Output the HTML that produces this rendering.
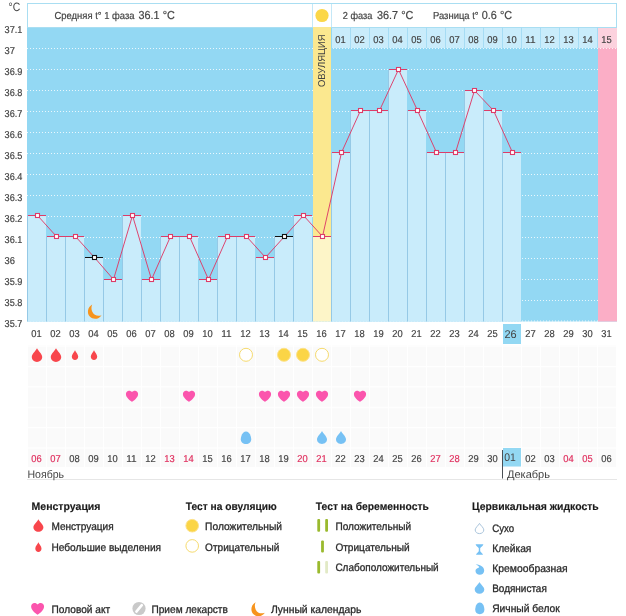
<!DOCTYPE html>
<html lang="ru"><head><meta charset="utf-8"><title>График базальной температуры</title>
<style>html,body{margin:0;padding:0;background:#fff}body{width:626px;height:616px;overflow:hidden}svg{display:block}text{text-rendering:geometricPrecision}</style>
</head><body>
<svg width="626" height="616" viewBox="0 0 626 616" font-family='"Liberation Sans", "DejaVu Sans", sans-serif'>
<rect width="626" height="616" fill="#fff"/>
<rect x="27" y="27" width="590" height="294.5" fill="#93d8f3"/>
<rect x="332" y="27" width="266" height="21" fill="#c9ecfb"/>
<rect x="598" y="27" width="19" height="21" fill="#fcd2de"/>
<rect x="598" y="48" width="19" height="273.5" fill="#fbaec6"/>
<path d="M27 48.5H617M27 69.5H598M27 90.5H598M27 111.5H598M27 132.5H598M27 153.5H598M27 174.5H598M27 195.5H598M27 216.5H598M27 237.5H598M27 258.5H598M27 279.5H598M27 300.5H598M27 321.0H598" stroke="#fff" stroke-opacity=".8" stroke-dasharray="1 2" fill="none"/>
<rect x="27" y="215.0" width="19" height="106.5" fill="#c9ecfb"/>
<rect x="27" y="215.0" width="1" height="106.5" fill="#95c9e6"/>
<rect x="46" y="236.0" width="19" height="85.5" fill="#c9ecfb"/>
<rect x="46" y="236.0" width="1" height="85.5" fill="#95c9e6"/>
<rect x="65" y="236.0" width="19" height="85.5" fill="#c9ecfb"/>
<rect x="65" y="236.0" width="1" height="85.5" fill="#95c9e6"/>
<rect x="84" y="257.0" width="19" height="64.5" fill="#c9ecfb"/>
<rect x="84" y="257.0" width="1" height="64.5" fill="#95c9e6"/>
<rect x="103" y="279.0" width="19" height="42.5" fill="#c9ecfb"/>
<rect x="103" y="279.0" width="1" height="42.5" fill="#95c9e6"/>
<rect x="122" y="215.0" width="19" height="106.5" fill="#c9ecfb"/>
<rect x="122" y="215.0" width="1" height="106.5" fill="#95c9e6"/>
<rect x="141" y="279.0" width="19" height="42.5" fill="#c9ecfb"/>
<rect x="141" y="279.0" width="1" height="42.5" fill="#95c9e6"/>
<rect x="160" y="236.0" width="19" height="85.5" fill="#c9ecfb"/>
<rect x="160" y="236.0" width="1" height="85.5" fill="#95c9e6"/>
<rect x="179" y="236.0" width="19" height="85.5" fill="#c9ecfb"/>
<rect x="179" y="236.0" width="1" height="85.5" fill="#95c9e6"/>
<rect x="198" y="279.0" width="19" height="42.5" fill="#c9ecfb"/>
<rect x="198" y="279.0" width="1" height="42.5" fill="#95c9e6"/>
<rect x="217" y="236.0" width="19" height="85.5" fill="#c9ecfb"/>
<rect x="217" y="236.0" width="1" height="85.5" fill="#95c9e6"/>
<rect x="236" y="236.0" width="19" height="85.5" fill="#c9ecfb"/>
<rect x="236" y="236.0" width="1" height="85.5" fill="#95c9e6"/>
<rect x="255" y="257.0" width="19" height="64.5" fill="#c9ecfb"/>
<rect x="255" y="257.0" width="1" height="64.5" fill="#95c9e6"/>
<rect x="274" y="236.0" width="19" height="85.5" fill="#c9ecfb"/>
<rect x="274" y="236.0" width="1" height="85.5" fill="#95c9e6"/>
<rect x="293" y="215.0" width="19" height="106.5" fill="#c9ecfb"/>
<rect x="293" y="215.0" width="1" height="106.5" fill="#95c9e6"/>
<rect x="331" y="152.0" width="19" height="169.5" fill="#c9ecfb"/>
<rect x="331" y="152.0" width="1" height="169.5" fill="#95c9e6"/>
<rect x="350" y="110.0" width="19" height="211.5" fill="#c9ecfb"/>
<rect x="350" y="110.0" width="1" height="211.5" fill="#95c9e6"/>
<rect x="369" y="110.0" width="19" height="211.5" fill="#c9ecfb"/>
<rect x="369" y="110.0" width="1" height="211.5" fill="#95c9e6"/>
<rect x="388" y="69.0" width="19" height="252.5" fill="#c9ecfb"/>
<rect x="388" y="69.0" width="1" height="252.5" fill="#95c9e6"/>
<rect x="407" y="110.0" width="19" height="211.5" fill="#c9ecfb"/>
<rect x="407" y="110.0" width="1" height="211.5" fill="#95c9e6"/>
<rect x="426" y="152.0" width="19" height="169.5" fill="#c9ecfb"/>
<rect x="426" y="152.0" width="1" height="169.5" fill="#95c9e6"/>
<rect x="445" y="152.0" width="19" height="169.5" fill="#c9ecfb"/>
<rect x="445" y="152.0" width="1" height="169.5" fill="#95c9e6"/>
<rect x="464" y="90.0" width="19" height="231.5" fill="#c9ecfb"/>
<rect x="464" y="90.0" width="1" height="231.5" fill="#95c9e6"/>
<rect x="483" y="110.0" width="19" height="211.5" fill="#c9ecfb"/>
<rect x="483" y="110.0" width="1" height="211.5" fill="#95c9e6"/>
<rect x="502" y="152.0" width="19" height="169.5" fill="#c9ecfb"/>
<rect x="502" y="152.0" width="1" height="169.5" fill="#95c9e6"/>
<rect x="27.5" y="3.5" width="589" height="24" fill="#fff" stroke="#a9def2"/>
<path d="M312.5 4V27M331.5 4V27" stroke="#c5e8f7" fill="none"/>
<path d="M350.5 27V48M369.5 27V48M388.5 27V48M407.5 27V48M426.5 27V48M445.5 27V48M464.5 27V48M483.5 27V48M502.5 27V48M521.5 27V48M540.5 27V48M559.5 27V48M578.5 27V48M597.5 27V48" stroke="#a6dcf4" fill="none"/>
<rect x="313" y="27" width="18" height="209.0" fill="#fbe88f"/>
<rect x="313" y="236.0" width="18" height="85.5" fill="#fdf5c8"/>
<rect x="312" y="236.0" width="1" height="85.5" fill="#95c9e6"/>
<text x="0.0" y="0.0" font-size="10" fill="#444" textLength="52.5" lengthAdjust="spacingAndGlyphs" transform="translate(324.6 87) rotate(-90)">ОВУЛЯЦИЯ</text>
<circle cx="322" cy="15.5" r="6.6" fill="#fbd748"/>
<text x="54.5" y="19.3" font-size="10.2" fill="#444" textLength="80.0" lengthAdjust="spacingAndGlyphs" stroke="#444" stroke-width="0.2">Средняя t° 1 фаза</text>
<text x="138.5" y="19.3" font-size="11.6" fill="#444" textLength="36.3" lengthAdjust="spacingAndGlyphs" stroke="#444" stroke-width="0.2">36.1 °C</text>
<text x="342.8" y="19.3" font-size="10.2" fill="#444" textLength="29.5" lengthAdjust="spacingAndGlyphs" stroke="#444" stroke-width="0.2">2 фаза</text>
<text x="377.0" y="19.3" font-size="11.6" fill="#444" textLength="36.3" lengthAdjust="spacingAndGlyphs" stroke="#444" stroke-width="0.2">36.7 °C</text>
<text x="433.0" y="19.3" font-size="10.2" fill="#444" textLength="45.6" lengthAdjust="spacingAndGlyphs" stroke="#444" stroke-width="0.2">Разница t°</text>
<text x="481.8" y="19.3" font-size="11.6" fill="#444" textLength="30.3" lengthAdjust="spacingAndGlyphs" stroke="#444" stroke-width="0.2">0.6 °C</text>
<text x="340.5" y="43.0" font-size="10" fill="#444" text-anchor="middle" textLength="10.4" lengthAdjust="spacingAndGlyphs" stroke="#444" stroke-width="0.2">01</text>
<text x="359.5" y="43.0" font-size="10" fill="#444" text-anchor="middle" textLength="10.4" lengthAdjust="spacingAndGlyphs" stroke="#444" stroke-width="0.2">02</text>
<text x="378.5" y="43.0" font-size="10" fill="#444" text-anchor="middle" textLength="10.4" lengthAdjust="spacingAndGlyphs" stroke="#444" stroke-width="0.2">03</text>
<text x="397.5" y="43.0" font-size="10" fill="#444" text-anchor="middle" textLength="10.4" lengthAdjust="spacingAndGlyphs" stroke="#444" stroke-width="0.2">04</text>
<text x="416.5" y="43.0" font-size="10" fill="#444" text-anchor="middle" textLength="10.4" lengthAdjust="spacingAndGlyphs" stroke="#444" stroke-width="0.2">05</text>
<text x="435.5" y="43.0" font-size="10" fill="#444" text-anchor="middle" textLength="10.4" lengthAdjust="spacingAndGlyphs" stroke="#444" stroke-width="0.2">06</text>
<text x="454.5" y="43.0" font-size="10" fill="#444" text-anchor="middle" textLength="10.4" lengthAdjust="spacingAndGlyphs" stroke="#444" stroke-width="0.2">07</text>
<text x="473.5" y="43.0" font-size="10" fill="#444" text-anchor="middle" textLength="10.4" lengthAdjust="spacingAndGlyphs" stroke="#444" stroke-width="0.2">08</text>
<text x="492.5" y="43.0" font-size="10" fill="#444" text-anchor="middle" textLength="10.4" lengthAdjust="spacingAndGlyphs" stroke="#444" stroke-width="0.2">09</text>
<text x="511.5" y="43.0" font-size="10" fill="#444" text-anchor="middle" textLength="10.4" lengthAdjust="spacingAndGlyphs" stroke="#444" stroke-width="0.2">10</text>
<text x="530.5" y="43.0" font-size="10" fill="#444" text-anchor="middle" textLength="10.4" lengthAdjust="spacingAndGlyphs" stroke="#444" stroke-width="0.2">11</text>
<text x="549.5" y="43.0" font-size="10" fill="#444" text-anchor="middle" textLength="10.4" lengthAdjust="spacingAndGlyphs" stroke="#444" stroke-width="0.2">12</text>
<text x="568.5" y="43.0" font-size="10" fill="#444" text-anchor="middle" textLength="10.4" lengthAdjust="spacingAndGlyphs" stroke="#444" stroke-width="0.2">13</text>
<text x="587.5" y="43.0" font-size="10" fill="#444" text-anchor="middle" textLength="10.4" lengthAdjust="spacingAndGlyphs" stroke="#444" stroke-width="0.2">14</text>
<text x="606.5" y="43.0" font-size="10" fill="#444" text-anchor="middle" textLength="10.4" lengthAdjust="spacingAndGlyphs" stroke="#444" stroke-width="0.2">15</text>
<polyline points="37.5,215.5 56.5,236.5 75.5,236.5 94.5,257.5 113.5,279.5 132.5,215.5 151.5,279.5 170.5,236.5 189.5,236.5 208.5,279.5 227.5,236.5 246.5,236.5 265.5,257.5 284.5,236.5 303.5,215.5 322.5,236.5 341.5,152.5 360.5,110.5 379.5,110.5 398.5,69.5 417.5,110.5 436.5,152.5 455.5,152.5 474.5,90.5 493.5,110.5 512.5,152.5" fill="none" stroke="#dd3c68" stroke-width="0.95"/>
<path d="M28.0 215.5H46.0" stroke="#dd3c68" fill="none"/>
<rect x="35.5" y="213.5" width="4" height="4" fill="#fff" stroke="#dd3c68" stroke-width="1.1"/>
<path d="M47.0 236.5H65.0" stroke="#dd3c68" fill="none"/>
<rect x="54.5" y="234.5" width="4" height="4" fill="#fff" stroke="#dd3c68" stroke-width="1.1"/>
<path d="M66.0 236.5H84.0" stroke="#dd3c68" fill="none"/>
<rect x="73.5" y="234.5" width="4" height="4" fill="#fff" stroke="#dd3c68" stroke-width="1.1"/>
<path d="M85.0 257.5H103.0" stroke="#111" fill="none"/>
<rect x="92.5" y="255.5" width="4" height="4" fill="#fff" stroke="#111" stroke-width="1.1"/>
<path d="M104.0 279.5H122.0" stroke="#dd3c68" fill="none"/>
<rect x="111.5" y="277.5" width="4" height="4" fill="#fff" stroke="#dd3c68" stroke-width="1.1"/>
<path d="M123.0 215.5H141.0" stroke="#dd3c68" fill="none"/>
<rect x="130.5" y="213.5" width="4" height="4" fill="#fff" stroke="#dd3c68" stroke-width="1.1"/>
<path d="M142.0 279.5H160.0" stroke="#dd3c68" fill="none"/>
<rect x="149.5" y="277.5" width="4" height="4" fill="#fff" stroke="#dd3c68" stroke-width="1.1"/>
<path d="M161.0 236.5H179.0" stroke="#dd3c68" fill="none"/>
<rect x="168.5" y="234.5" width="4" height="4" fill="#fff" stroke="#dd3c68" stroke-width="1.1"/>
<path d="M180.0 236.5H198.0" stroke="#dd3c68" fill="none"/>
<rect x="187.5" y="234.5" width="4" height="4" fill="#fff" stroke="#dd3c68" stroke-width="1.1"/>
<path d="M199.0 279.5H217.0" stroke="#dd3c68" fill="none"/>
<rect x="206.5" y="277.5" width="4" height="4" fill="#fff" stroke="#dd3c68" stroke-width="1.1"/>
<path d="M218.0 236.5H236.0" stroke="#dd3c68" fill="none"/>
<rect x="225.5" y="234.5" width="4" height="4" fill="#fff" stroke="#dd3c68" stroke-width="1.1"/>
<path d="M237.0 236.5H255.0" stroke="#dd3c68" fill="none"/>
<rect x="244.5" y="234.5" width="4" height="4" fill="#fff" stroke="#dd3c68" stroke-width="1.1"/>
<path d="M256.0 257.5H274.0" stroke="#dd3c68" fill="none"/>
<rect x="263.5" y="255.5" width="4" height="4" fill="#fff" stroke="#dd3c68" stroke-width="1.1"/>
<path d="M275.0 236.5H293.0" stroke="#111" fill="none"/>
<rect x="282.5" y="234.5" width="4" height="4" fill="#fff" stroke="#111" stroke-width="1.1"/>
<path d="M294.0 215.5H312.0" stroke="#dd3c68" fill="none"/>
<rect x="301.5" y="213.5" width="4" height="4" fill="#fff" stroke="#dd3c68" stroke-width="1.1"/>
<path d="M313.0 236.5H331.0" stroke="#dd3c68" fill="none"/>
<rect x="320.5" y="234.5" width="4" height="4" fill="#fff" stroke="#dd3c68" stroke-width="1.1"/>
<path d="M332.0 152.5H350.0" stroke="#dd3c68" fill="none"/>
<rect x="339.5" y="150.5" width="4" height="4" fill="#fff" stroke="#dd3c68" stroke-width="1.1"/>
<path d="M351.0 110.5H369.0" stroke="#dd3c68" fill="none"/>
<rect x="358.5" y="108.5" width="4" height="4" fill="#fff" stroke="#dd3c68" stroke-width="1.1"/>
<path d="M370.0 110.5H388.0" stroke="#dd3c68" fill="none"/>
<rect x="377.5" y="108.5" width="4" height="4" fill="#fff" stroke="#dd3c68" stroke-width="1.1"/>
<path d="M389.0 69.5H407.0" stroke="#dd3c68" fill="none"/>
<rect x="396.5" y="67.5" width="4" height="4" fill="#fff" stroke="#dd3c68" stroke-width="1.1"/>
<path d="M408.0 110.5H426.0" stroke="#dd3c68" fill="none"/>
<rect x="415.5" y="108.5" width="4" height="4" fill="#fff" stroke="#dd3c68" stroke-width="1.1"/>
<path d="M427.0 152.5H445.0" stroke="#dd3c68" fill="none"/>
<rect x="434.5" y="150.5" width="4" height="4" fill="#fff" stroke="#dd3c68" stroke-width="1.1"/>
<path d="M446.0 152.5H464.0" stroke="#dd3c68" fill="none"/>
<rect x="453.5" y="150.5" width="4" height="4" fill="#fff" stroke="#dd3c68" stroke-width="1.1"/>
<path d="M465.0 90.5H483.0" stroke="#dd3c68" fill="none"/>
<rect x="472.5" y="88.5" width="4" height="4" fill="#fff" stroke="#dd3c68" stroke-width="1.1"/>
<path d="M484.0 110.5H502.0" stroke="#dd3c68" fill="none"/>
<rect x="491.5" y="108.5" width="4" height="4" fill="#fff" stroke="#dd3c68" stroke-width="1.1"/>
<path d="M503.0 152.5H521.0" stroke="#dd3c68" fill="none"/>
<rect x="510.5" y="150.5" width="4" height="4" fill="#fff" stroke="#dd3c68" stroke-width="1.1"/>
<path transform="translate(95 311.6) scale(1.0)" d="M-2.8 -7.2 C-7.5 -4.5 -8.3 1.5 -5.2 5 C-2 8.3 3.8 8 6.6 3.6 C2.8 5.2 -1.2 3.6 -2.7 0.2 C-3.8 -2.4 -3.8 -5 -2.8 -7.2Z" fill="#f7941d"/>
<text x="8.6" y="10.8" font-size="12.2" fill="#444" textLength="11.7" lengthAdjust="spacingAndGlyphs">°C</text>
<text x="4.6" y="33.4" font-size="10" fill="#444" textLength="17.8" lengthAdjust="spacingAndGlyphs" stroke="#444" stroke-width="0.2">37.1</text>
<text x="4.6" y="54.3" font-size="10" fill="#444" textLength="10.4" lengthAdjust="spacingAndGlyphs" stroke="#444" stroke-width="0.2">37</text>
<text x="4.6" y="75.3" font-size="10" fill="#444" textLength="17.8" lengthAdjust="spacingAndGlyphs" stroke="#444" stroke-width="0.2">36.9</text>
<text x="4.6" y="96.2" font-size="10" fill="#444" textLength="17.8" lengthAdjust="spacingAndGlyphs" stroke="#444" stroke-width="0.2">36.8</text>
<text x="4.6" y="117.2" font-size="10" fill="#444" textLength="17.8" lengthAdjust="spacingAndGlyphs" stroke="#444" stroke-width="0.2">36.7</text>
<text x="4.6" y="138.2" font-size="10" fill="#444" textLength="17.8" lengthAdjust="spacingAndGlyphs" stroke="#444" stroke-width="0.2">36.6</text>
<text x="4.6" y="159.1" font-size="10" fill="#444" textLength="17.8" lengthAdjust="spacingAndGlyphs" stroke="#444" stroke-width="0.2">36.5</text>
<text x="4.6" y="180.1" font-size="10" fill="#444" textLength="17.8" lengthAdjust="spacingAndGlyphs" stroke="#444" stroke-width="0.2">36.4</text>
<text x="4.6" y="201.0" font-size="10" fill="#444" textLength="17.8" lengthAdjust="spacingAndGlyphs" stroke="#444" stroke-width="0.2">36.3</text>
<text x="4.6" y="221.9" font-size="10" fill="#444" textLength="17.8" lengthAdjust="spacingAndGlyphs" stroke="#444" stroke-width="0.2">36.2</text>
<text x="4.6" y="242.9" font-size="10" fill="#444" textLength="17.8" lengthAdjust="spacingAndGlyphs" stroke="#444" stroke-width="0.2">36.1</text>
<text x="4.6" y="263.8" font-size="10" fill="#444" textLength="10.4" lengthAdjust="spacingAndGlyphs" stroke="#444" stroke-width="0.2">36</text>
<text x="4.6" y="284.8" font-size="10" fill="#444" textLength="17.8" lengthAdjust="spacingAndGlyphs" stroke="#444" stroke-width="0.2">35.9</text>
<text x="4.6" y="305.7" font-size="10" fill="#444" textLength="17.8" lengthAdjust="spacingAndGlyphs" stroke="#444" stroke-width="0.2">35.8</text>
<text x="4.6" y="326.7" font-size="10" fill="#444" textLength="17.8" lengthAdjust="spacingAndGlyphs" stroke="#444" stroke-width="0.2">35.7</text>
<rect x="503" y="324" width="18" height="20" fill="#93d8f3"/>
<text x="36.5" y="337.2" font-size="10" fill="#444" text-anchor="middle" textLength="10.4" lengthAdjust="spacingAndGlyphs" stroke="#444" stroke-width="0.2">01</text>
<text x="55.5" y="337.2" font-size="10" fill="#444" text-anchor="middle" textLength="10.4" lengthAdjust="spacingAndGlyphs" stroke="#444" stroke-width="0.2">02</text>
<text x="74.5" y="337.2" font-size="10" fill="#444" text-anchor="middle" textLength="10.4" lengthAdjust="spacingAndGlyphs" stroke="#444" stroke-width="0.2">03</text>
<text x="93.5" y="337.2" font-size="10" fill="#444" text-anchor="middle" textLength="10.4" lengthAdjust="spacingAndGlyphs" stroke="#444" stroke-width="0.2">04</text>
<text x="112.5" y="337.2" font-size="10" fill="#444" text-anchor="middle" textLength="10.4" lengthAdjust="spacingAndGlyphs" stroke="#444" stroke-width="0.2">05</text>
<text x="131.5" y="337.2" font-size="10" fill="#444" text-anchor="middle" textLength="10.4" lengthAdjust="spacingAndGlyphs" stroke="#444" stroke-width="0.2">06</text>
<text x="150.5" y="337.2" font-size="10" fill="#444" text-anchor="middle" textLength="10.4" lengthAdjust="spacingAndGlyphs" stroke="#444" stroke-width="0.2">07</text>
<text x="169.5" y="337.2" font-size="10" fill="#444" text-anchor="middle" textLength="10.4" lengthAdjust="spacingAndGlyphs" stroke="#444" stroke-width="0.2">08</text>
<text x="188.5" y="337.2" font-size="10" fill="#444" text-anchor="middle" textLength="10.4" lengthAdjust="spacingAndGlyphs" stroke="#444" stroke-width="0.2">09</text>
<text x="207.5" y="337.2" font-size="10" fill="#444" text-anchor="middle" textLength="10.4" lengthAdjust="spacingAndGlyphs" stroke="#444" stroke-width="0.2">10</text>
<text x="226.5" y="337.2" font-size="10" fill="#444" text-anchor="middle" textLength="10.4" lengthAdjust="spacingAndGlyphs" stroke="#444" stroke-width="0.2">11</text>
<text x="245.5" y="337.2" font-size="10" fill="#444" text-anchor="middle" textLength="10.4" lengthAdjust="spacingAndGlyphs" stroke="#444" stroke-width="0.2">12</text>
<text x="264.5" y="337.2" font-size="10" fill="#444" text-anchor="middle" textLength="10.4" lengthAdjust="spacingAndGlyphs" stroke="#444" stroke-width="0.2">13</text>
<text x="283.5" y="337.2" font-size="10" fill="#444" text-anchor="middle" textLength="10.4" lengthAdjust="spacingAndGlyphs" stroke="#444" stroke-width="0.2">14</text>
<text x="302.5" y="337.2" font-size="10" fill="#444" text-anchor="middle" textLength="10.4" lengthAdjust="spacingAndGlyphs" stroke="#444" stroke-width="0.2">15</text>
<text x="321.5" y="337.2" font-size="10" fill="#444" text-anchor="middle" textLength="10.4" lengthAdjust="spacingAndGlyphs" stroke="#444" stroke-width="0.2">16</text>
<text x="340.5" y="337.2" font-size="10" fill="#444" text-anchor="middle" textLength="10.4" lengthAdjust="spacingAndGlyphs" stroke="#444" stroke-width="0.2">17</text>
<text x="359.5" y="337.2" font-size="10" fill="#444" text-anchor="middle" textLength="10.4" lengthAdjust="spacingAndGlyphs" stroke="#444" stroke-width="0.2">18</text>
<text x="378.5" y="337.2" font-size="10" fill="#444" text-anchor="middle" textLength="10.4" lengthAdjust="spacingAndGlyphs" stroke="#444" stroke-width="0.2">19</text>
<text x="397.5" y="337.2" font-size="10" fill="#444" text-anchor="middle" textLength="10.4" lengthAdjust="spacingAndGlyphs" stroke="#444" stroke-width="0.2">20</text>
<text x="416.5" y="337.2" font-size="10" fill="#444" text-anchor="middle" textLength="10.4" lengthAdjust="spacingAndGlyphs" stroke="#444" stroke-width="0.2">21</text>
<text x="435.5" y="337.2" font-size="10" fill="#444" text-anchor="middle" textLength="10.4" lengthAdjust="spacingAndGlyphs" stroke="#444" stroke-width="0.2">22</text>
<text x="454.5" y="337.2" font-size="10" fill="#444" text-anchor="middle" textLength="10.4" lengthAdjust="spacingAndGlyphs" stroke="#444" stroke-width="0.2">23</text>
<text x="473.5" y="337.2" font-size="10" fill="#444" text-anchor="middle" textLength="10.4" lengthAdjust="spacingAndGlyphs" stroke="#444" stroke-width="0.2">24</text>
<text x="492.5" y="337.2" font-size="10" fill="#444" text-anchor="middle" textLength="10.4" lengthAdjust="spacingAndGlyphs" stroke="#444" stroke-width="0.2">25</text>
<text x="510.6" y="338.0" font-size="11.2" fill="#444" text-anchor="middle" textLength="12.2" lengthAdjust="spacingAndGlyphs">26</text>
<text x="530.5" y="337.2" font-size="10" fill="#444" text-anchor="middle" textLength="10.4" lengthAdjust="spacingAndGlyphs" stroke="#444" stroke-width="0.2">27</text>
<text x="549.5" y="337.2" font-size="10" fill="#444" text-anchor="middle" textLength="10.4" lengthAdjust="spacingAndGlyphs" stroke="#444" stroke-width="0.2">28</text>
<text x="568.5" y="337.2" font-size="10" fill="#444" text-anchor="middle" textLength="10.4" lengthAdjust="spacingAndGlyphs" stroke="#444" stroke-width="0.2">29</text>
<text x="587.5" y="337.2" font-size="10" fill="#444" text-anchor="middle" textLength="10.4" lengthAdjust="spacingAndGlyphs" stroke="#444" stroke-width="0.2">30</text>
<text x="606.5" y="337.2" font-size="10" fill="#444" text-anchor="middle" textLength="10.4" lengthAdjust="spacingAndGlyphs" stroke="#444" stroke-width="0.2">31</text>
<defs><pattern id="gr" x="27" y="345.5" width="19.000" height="20.4" patternUnits="userSpaceOnUse"><rect width="19.000" height="20.4" fill="#fafafa"/><path d="M0 .5H20M.5 0V21" stroke="#fff" stroke-width="1.2" fill="none"/></pattern></defs>
<rect x="27" y="345" width="590" height="122" fill="url(#gr)"/>
<path d="M37.00 348.30C38.25 351.02 42.20 354.01 42.20 357.00C42.20 359.86 39.91 361.90 37.00 361.90C34.09 361.90 31.80 359.86 31.80 357.00C31.80 354.01 35.75 351.02 37.00 348.30Z" fill="#f8464c"/>
<path d="M56.00 348.30C57.25 351.02 61.20 354.01 61.20 357.00C61.20 359.86 58.91 361.90 56.00 361.90C53.09 361.90 50.80 359.86 50.80 357.00C50.80 354.01 54.75 351.02 56.00 348.30Z" fill="#f8464c"/>
<path d="M75.00 350.20C75.77 352.16 78.20 354.32 78.20 356.47C78.20 358.53 76.79 360.00 75.00 360.00C73.21 360.00 71.80 358.53 71.80 356.47C71.80 354.32 74.23 352.16 75.00 350.20Z" fill="#f8464c"/>
<path d="M94.00 350.20C94.77 352.16 97.20 354.32 97.20 356.47C97.20 358.53 95.79 360.00 94.00 360.00C92.21 360.00 90.80 358.53 90.80 356.47C90.80 354.32 93.23 352.16 94.00 350.20Z" fill="#f8464c"/>
<circle cx="246.0" cy="354.8" r="6.5" fill="#fff" stroke="#f4d866" stroke-width="0.95"/>
<circle cx="284.0" cy="354.8" r="6.5" fill="#fbd546" stroke="#fde28a"/>
<circle cx="303.0" cy="354.8" r="6.5" fill="#fbd546" stroke="#fde28a"/>
<circle cx="322.0" cy="354.8" r="6.5" fill="#fff" stroke="#f4d866" stroke-width="0.95"/>
<path transform="translate(132.0 396.3) scale(1.0)" d="M0 5.6C-1.5 4.6 -6.1 1.6 -6.1 -2.2C-6.1 -4.3 -4.6 -5.6 -3 -5.6C-1.7 -5.6 -0.6 -5 0 -4.2C0.6 -5 1.7 -5.6 3 -5.6C4.6 -5.6 6.1 -4.3 6.1 -2.2C6.1 1.6 1.5 4.6 0 5.6Z" fill="#fb55ad"/>
<path transform="translate(189.0 396.3) scale(1.0)" d="M0 5.6C-1.5 4.6 -6.1 1.6 -6.1 -2.2C-6.1 -4.3 -4.6 -5.6 -3 -5.6C-1.7 -5.6 -0.6 -5 0 -4.2C0.6 -5 1.7 -5.6 3 -5.6C4.6 -5.6 6.1 -4.3 6.1 -2.2C6.1 1.6 1.5 4.6 0 5.6Z" fill="#fb55ad"/>
<path transform="translate(265.0 396.3) scale(1.0)" d="M0 5.6C-1.5 4.6 -6.1 1.6 -6.1 -2.2C-6.1 -4.3 -4.6 -5.6 -3 -5.6C-1.7 -5.6 -0.6 -5 0 -4.2C0.6 -5 1.7 -5.6 3 -5.6C4.6 -5.6 6.1 -4.3 6.1 -2.2C6.1 1.6 1.5 4.6 0 5.6Z" fill="#fb55ad"/>
<path transform="translate(284.0 396.3) scale(1.0)" d="M0 5.6C-1.5 4.6 -6.1 1.6 -6.1 -2.2C-6.1 -4.3 -4.6 -5.6 -3 -5.6C-1.7 -5.6 -0.6 -5 0 -4.2C0.6 -5 1.7 -5.6 3 -5.6C4.6 -5.6 6.1 -4.3 6.1 -2.2C6.1 1.6 1.5 4.6 0 5.6Z" fill="#fb55ad"/>
<path transform="translate(303.0 396.3) scale(1.0)" d="M0 5.6C-1.5 4.6 -6.1 1.6 -6.1 -2.2C-6.1 -4.3 -4.6 -5.6 -3 -5.6C-1.7 -5.6 -0.6 -5 0 -4.2C0.6 -5 1.7 -5.6 3 -5.6C4.6 -5.6 6.1 -4.3 6.1 -2.2C6.1 1.6 1.5 4.6 0 5.6Z" fill="#fb55ad"/>
<path transform="translate(322.0 396.3) scale(1.0)" d="M0 5.6C-1.5 4.6 -6.1 1.6 -6.1 -2.2C-6.1 -4.3 -4.6 -5.6 -3 -5.6C-1.7 -5.6 -0.6 -5 0 -4.2C0.6 -5 1.7 -5.6 3 -5.6C4.6 -5.6 6.1 -4.3 6.1 -2.2C6.1 1.6 1.5 4.6 0 5.6Z" fill="#fb55ad"/>
<path transform="translate(360.0 396.3) scale(1.0)" d="M0 5.6C-1.5 4.6 -6.1 1.6 -6.1 -2.2C-6.1 -4.3 -4.6 -5.6 -3 -5.6C-1.7 -5.6 -0.6 -5 0 -4.2C0.6 -5 1.7 -5.6 3 -5.6C4.6 -5.6 6.1 -4.3 6.1 -2.2C6.1 1.6 1.5 4.6 0 5.6Z" fill="#fb55ad"/>
<path d="M246.0 431.5C249.95 431.50 251.20 437.17 251.20 439.31C251.20 442.34 249.12 444.10 246.0 444.10C242.88 444.10 240.80 442.34 240.80 439.31C240.80 437.17 242.05 431.50 246.0 431.5Z" fill="#76c1f4"/>
<path d="M322.00 431.00C323.20 433.60 327.00 436.46 327.00 439.32C327.00 442.05 324.80 444.00 322.00 444.00C319.20 444.00 317.00 442.05 317.00 439.32C317.00 436.46 320.80 433.60 322.00 431.00Z" fill="#76c1f4"/>
<path d="M341.00 431.00C342.20 433.60 346.00 436.46 346.00 439.32C346.00 442.05 343.80 444.00 341.00 444.00C338.20 444.00 336.00 442.05 336.00 439.32C336.00 436.46 339.80 433.60 341.00 431.00Z" fill="#76c1f4"/>
<rect x="503" y="448" width="18" height="18.5" fill="#93d8f3"/>
<text x="36.5" y="461.8" font-size="10" fill="#e0305f" text-anchor="middle" textLength="10.4" lengthAdjust="spacingAndGlyphs" stroke="#e0305f" stroke-width="0.2">06</text>
<text x="55.5" y="461.8" font-size="10" fill="#e0305f" text-anchor="middle" textLength="10.4" lengthAdjust="spacingAndGlyphs" stroke="#e0305f" stroke-width="0.2">07</text>
<text x="74.5" y="461.8" font-size="10" fill="#444" text-anchor="middle" textLength="10.4" lengthAdjust="spacingAndGlyphs" stroke="#444" stroke-width="0.2">08</text>
<text x="93.5" y="461.8" font-size="10" fill="#444" text-anchor="middle" textLength="10.4" lengthAdjust="spacingAndGlyphs" stroke="#444" stroke-width="0.2">09</text>
<text x="112.5" y="461.8" font-size="10" fill="#444" text-anchor="middle" textLength="10.4" lengthAdjust="spacingAndGlyphs" stroke="#444" stroke-width="0.2">10</text>
<text x="131.5" y="461.8" font-size="10" fill="#444" text-anchor="middle" textLength="10.4" lengthAdjust="spacingAndGlyphs" stroke="#444" stroke-width="0.2">11</text>
<text x="150.5" y="461.8" font-size="10" fill="#444" text-anchor="middle" textLength="10.4" lengthAdjust="spacingAndGlyphs" stroke="#444" stroke-width="0.2">12</text>
<text x="169.5" y="461.8" font-size="10" fill="#e0305f" text-anchor="middle" textLength="10.4" lengthAdjust="spacingAndGlyphs" stroke="#e0305f" stroke-width="0.2">13</text>
<text x="188.5" y="461.8" font-size="10" fill="#e0305f" text-anchor="middle" textLength="10.4" lengthAdjust="spacingAndGlyphs" stroke="#e0305f" stroke-width="0.2">14</text>
<text x="207.5" y="461.8" font-size="10" fill="#444" text-anchor="middle" textLength="10.4" lengthAdjust="spacingAndGlyphs" stroke="#444" stroke-width="0.2">15</text>
<text x="226.5" y="461.8" font-size="10" fill="#444" text-anchor="middle" textLength="10.4" lengthAdjust="spacingAndGlyphs" stroke="#444" stroke-width="0.2">16</text>
<text x="245.5" y="461.8" font-size="10" fill="#444" text-anchor="middle" textLength="10.4" lengthAdjust="spacingAndGlyphs" stroke="#444" stroke-width="0.2">17</text>
<text x="264.5" y="461.8" font-size="10" fill="#444" text-anchor="middle" textLength="10.4" lengthAdjust="spacingAndGlyphs" stroke="#444" stroke-width="0.2">18</text>
<text x="283.5" y="461.8" font-size="10" fill="#444" text-anchor="middle" textLength="10.4" lengthAdjust="spacingAndGlyphs" stroke="#444" stroke-width="0.2">19</text>
<text x="302.5" y="461.8" font-size="10" fill="#e0305f" text-anchor="middle" textLength="10.4" lengthAdjust="spacingAndGlyphs" stroke="#e0305f" stroke-width="0.2">20</text>
<text x="321.5" y="461.8" font-size="10" fill="#e0305f" text-anchor="middle" textLength="10.4" lengthAdjust="spacingAndGlyphs" stroke="#e0305f" stroke-width="0.2">21</text>
<text x="340.5" y="461.8" font-size="10" fill="#444" text-anchor="middle" textLength="10.4" lengthAdjust="spacingAndGlyphs" stroke="#444" stroke-width="0.2">22</text>
<text x="359.5" y="461.8" font-size="10" fill="#444" text-anchor="middle" textLength="10.4" lengthAdjust="spacingAndGlyphs" stroke="#444" stroke-width="0.2">23</text>
<text x="378.5" y="461.8" font-size="10" fill="#444" text-anchor="middle" textLength="10.4" lengthAdjust="spacingAndGlyphs" stroke="#444" stroke-width="0.2">24</text>
<text x="397.5" y="461.8" font-size="10" fill="#444" text-anchor="middle" textLength="10.4" lengthAdjust="spacingAndGlyphs" stroke="#444" stroke-width="0.2">25</text>
<text x="416.5" y="461.8" font-size="10" fill="#444" text-anchor="middle" textLength="10.4" lengthAdjust="spacingAndGlyphs" stroke="#444" stroke-width="0.2">26</text>
<text x="435.5" y="461.8" font-size="10" fill="#e0305f" text-anchor="middle" textLength="10.4" lengthAdjust="spacingAndGlyphs" stroke="#e0305f" stroke-width="0.2">27</text>
<text x="454.5" y="461.8" font-size="10" fill="#e0305f" text-anchor="middle" textLength="10.4" lengthAdjust="spacingAndGlyphs" stroke="#e0305f" stroke-width="0.2">28</text>
<text x="473.5" y="461.8" font-size="10" fill="#444" text-anchor="middle" textLength="10.4" lengthAdjust="spacingAndGlyphs" stroke="#444" stroke-width="0.2">29</text>
<text x="492.5" y="461.8" font-size="10" fill="#444" text-anchor="middle" textLength="10.4" lengthAdjust="spacingAndGlyphs" stroke="#444" stroke-width="0.2">30</text>
<text x="510.1" y="461.2" font-size="11" fill="#444" text-anchor="middle" textLength="11.6" lengthAdjust="spacingAndGlyphs">01</text>
<text x="530.5" y="461.8" font-size="10" fill="#444" text-anchor="middle" textLength="10.4" lengthAdjust="spacingAndGlyphs" stroke="#444" stroke-width="0.2">02</text>
<text x="549.5" y="461.8" font-size="10" fill="#444" text-anchor="middle" textLength="10.4" lengthAdjust="spacingAndGlyphs" stroke="#444" stroke-width="0.2">03</text>
<text x="568.5" y="461.8" font-size="10" fill="#e0305f" text-anchor="middle" textLength="10.4" lengthAdjust="spacingAndGlyphs" stroke="#e0305f" stroke-width="0.2">04</text>
<text x="587.5" y="461.8" font-size="10" fill="#e0305f" text-anchor="middle" textLength="10.4" lengthAdjust="spacingAndGlyphs" stroke="#e0305f" stroke-width="0.2">05</text>
<text x="606.5" y="461.8" font-size="10" fill="#444" text-anchor="middle" textLength="10.4" lengthAdjust="spacingAndGlyphs" stroke="#444" stroke-width="0.2">06</text>
<path d="M502.5 450V478.5" stroke="#4a4f55" fill="none"/>
<path d="M27 479.5H617" stroke="#e6e6e6" fill="none"/>
<text x="27.5" y="477.7" font-size="11" fill="#444" textLength="36.6" lengthAdjust="spacingAndGlyphs">Ноябрь</text>
<text x="507.0" y="477.7" font-size="11" fill="#444" textLength="43.0" lengthAdjust="spacingAndGlyphs">Декабрь</text>
<text x="31.5" y="510.2" font-size="10.8" fill="#1a1a1a" font-weight="bold" textLength="69.0" lengthAdjust="spacingAndGlyphs" stroke="#1a1a1a" stroke-width="0.15">Менструация</text>
<text x="51.4" y="529.8" font-size="10.8" fill="#2a2a2a" textLength="62.2" lengthAdjust="spacingAndGlyphs" stroke="#2a2a2a" stroke-width="0.3">Менструация</text>
<text x="51.4" y="550.6" font-size="10.8" fill="#2a2a2a" textLength="109.7" lengthAdjust="spacingAndGlyphs" stroke="#2a2a2a" stroke-width="0.3">Небольшие выделения</text>
<path d="M38.40 519.30C39.60 521.78 43.40 524.51 43.40 527.24C43.40 529.84 41.20 531.70 38.40 531.70C35.60 531.70 33.40 529.84 33.40 527.24C33.40 524.51 37.20 521.78 38.40 519.30Z" fill="#f8464c"/>
<path d="M38.40 542.30C39.14 544.22 41.50 546.33 41.50 548.44C41.50 550.46 40.14 551.90 38.40 551.90C36.66 551.90 35.30 550.46 35.30 548.44C35.30 546.33 37.66 544.22 38.40 542.30Z" fill="#f8464c"/>
<text x="185.8" y="510.2" font-size="10.8" fill="#1a1a1a" font-weight="bold" textLength="91.0" lengthAdjust="spacingAndGlyphs" stroke="#1a1a1a" stroke-width="0.15">Тест на овуляцию</text>
<text x="205.1" y="529.8" font-size="10.8" fill="#2a2a2a" textLength="76.9" lengthAdjust="spacingAndGlyphs" stroke="#2a2a2a" stroke-width="0.3">Положительный</text>
<text x="205.1" y="550.6" font-size="10.8" fill="#2a2a2a" textLength="74.2" lengthAdjust="spacingAndGlyphs" stroke="#2a2a2a" stroke-width="0.3">Отрицательный</text>
<circle cx="192.2" cy="525.7" r="6.3" fill="#fbd546" stroke="#fde28a"/>
<circle cx="192.2" cy="545.9" r="6.3" fill="#fff" stroke="#f4d866" stroke-width="0.95"/>
<text x="315.8" y="510.2" font-size="10.8" fill="#1a1a1a" font-weight="bold" textLength="113.0" lengthAdjust="spacingAndGlyphs" stroke="#1a1a1a" stroke-width="0.15">Тест на беременность</text>
<text x="335.4" y="529.8" font-size="10.8" fill="#2a2a2a" textLength="75.8" lengthAdjust="spacingAndGlyphs" stroke="#2a2a2a" stroke-width="0.3">Положительный</text>
<text x="335.4" y="550.6" font-size="10.8" fill="#2a2a2a" textLength="74.3" lengthAdjust="spacingAndGlyphs" stroke="#2a2a2a" stroke-width="0.3">Отрицательный</text>
<text x="335.4" y="570.5" font-size="10.8" fill="#2a2a2a" textLength="103.3" lengthAdjust="spacingAndGlyphs" stroke="#2a2a2a" stroke-width="0.3">Слабоположительный</text>
<rect x="317.3" y="519" width="2.8" height="12.7" rx="1" fill="#9aba2e"/>
<rect x="325.2" y="519" width="2.8" height="12.7" rx="1" fill="#9aba2e"/>
<rect x="321.1" y="540.5" width="2.8" height="12" rx="1" fill="#9aba2e"/>
<rect x="317.3" y="561" width="2.8" height="12.4" rx="1" fill="#9aba2e"/>
<rect x="325.2" y="561" width="2.8" height="12.4" rx="1" fill="#e2eac6"/>
<text x="471.9" y="510.2" font-size="10.8" fill="#1a1a1a" font-weight="bold" textLength="126.8" lengthAdjust="spacingAndGlyphs" stroke="#1a1a1a" stroke-width="0.15">Цервикальная жидкость</text>
<text x="492.2" y="531.7" font-size="10.8" fill="#2a2a2a" textLength="22.0" lengthAdjust="spacingAndGlyphs" stroke="#2a2a2a" stroke-width="0.3">Сухо</text>
<text x="492.2" y="551.8" font-size="10.8" fill="#2a2a2a" textLength="39.2" lengthAdjust="spacingAndGlyphs" stroke="#2a2a2a" stroke-width="0.3">Клейкая</text>
<text x="492.2" y="571.9" font-size="10.8" fill="#2a2a2a" textLength="75.5" lengthAdjust="spacingAndGlyphs" stroke="#2a2a2a" stroke-width="0.3">Кремообразная</text>
<text x="492.2" y="592.0" font-size="10.8" fill="#2a2a2a" textLength="54.6" lengthAdjust="spacingAndGlyphs" stroke="#2a2a2a" stroke-width="0.3">Водянистая</text>
<text x="492.2" y="612.1" font-size="10.8" fill="#2a2a2a" textLength="67.6" lengthAdjust="spacingAndGlyphs" stroke="#2a2a2a" stroke-width="0.3">Яичный белок</text>
<g fill="#fff" stroke="#a9c4dc" stroke-width="1">
<path d="M479.50 523.40C480.53 525.44 483.80 527.68 483.80 529.93C483.80 532.07 481.91 533.60 479.50 533.60C477.09 533.60 475.20 532.07 475.20 529.93C475.20 527.68 478.47 525.44 479.50 523.40Z" fill="#fff"/>
</g>
<path d="M475.6 544.2H483.4C483 546 481 547 480.2 548.2V551.2C481 552.4 482.6 553.2 483 554.8H476C476.4 553.2 478 552.4 478.8 551.2V548.2C478 547 476 546 475.6 544.2Z" fill="#76c1f4"/>
<path d="M475.6 564.4C480 564.2 484.2 566.6 484.2 570.4C484.2 573 482.2 574.8 479.8 574.8C477.4 574.8 475.5 573.2 475.5 571C475.5 569.6 476.3 568.6 477.4 568.2C478.4 567.9 479 567.6 479.2 567C478.6 565.8 477.2 564.9 475.6 564.4Z" fill="#76c1f4"/>
<path d="M479.50 582.00C480.65 584.36 484.30 586.96 484.30 589.55C484.30 592.03 482.19 593.80 479.50 593.80C476.81 593.80 474.70 592.03 474.70 589.55C474.70 586.96 478.35 584.36 479.50 582.00Z" fill="#76c1f4"/>
<path d="M479.8 602.6C483.30 602.60 484.40 607.82 484.40 609.79C484.40 612.58 482.56 614.20 479.8 614.20C477.04 614.20 475.20 612.58 475.20 609.79C475.20 607.82 476.30 602.60 479.8 602.6Z" fill="#76c1f4"/>
<path transform="translate(37.6 608.9) scale(1.06)" d="M0 5.6C-1.5 4.6 -6.1 1.6 -6.1 -2.2C-6.1 -4.3 -4.6 -5.6 -3 -5.6C-1.7 -5.6 -0.6 -5 0 -4.2C0.6 -5 1.7 -5.6 3 -5.6C4.6 -5.6 6.1 -4.3 6.1 -2.2C6.1 1.6 1.5 4.6 0 5.6Z" fill="#fb55ad"/>
<text x="51.6" y="612.5" font-size="10.8" fill="#2a2a2a" textLength="58.5" lengthAdjust="spacingAndGlyphs" stroke="#2a2a2a" stroke-width="0.3">Половой акт</text>
<circle cx="139" cy="608.5" r="6.6" fill="#c9c9c9"/><path d="M136.4 611.6L141.8 605.2" stroke="#fff" stroke-width="2.6" stroke-linecap="round" fill="none"/>
<text x="151.5" y="612.5" font-size="10.8" fill="#2a2a2a" textLength="76.3" lengthAdjust="spacingAndGlyphs" stroke="#2a2a2a" stroke-width="0.3">Прием лекарств</text>
<path transform="translate(258.3 609.2) scale(0.98)" d="M-2.8 -7.2 C-7.5 -4.5 -8.3 1.5 -5.2 5 C-2 8.3 3.8 8 6.6 3.6 C2.8 5.2 -1.2 3.6 -2.7 0.2 C-3.8 -2.4 -3.8 -5 -2.8 -7.2Z" fill="#f7941d"/>
<text x="270.9" y="612.5" font-size="10.8" fill="#2a2a2a" textLength="90.5" lengthAdjust="spacingAndGlyphs" stroke="#2a2a2a" stroke-width="0.3">Лунный календарь</text>
</svg>
</body></html>
